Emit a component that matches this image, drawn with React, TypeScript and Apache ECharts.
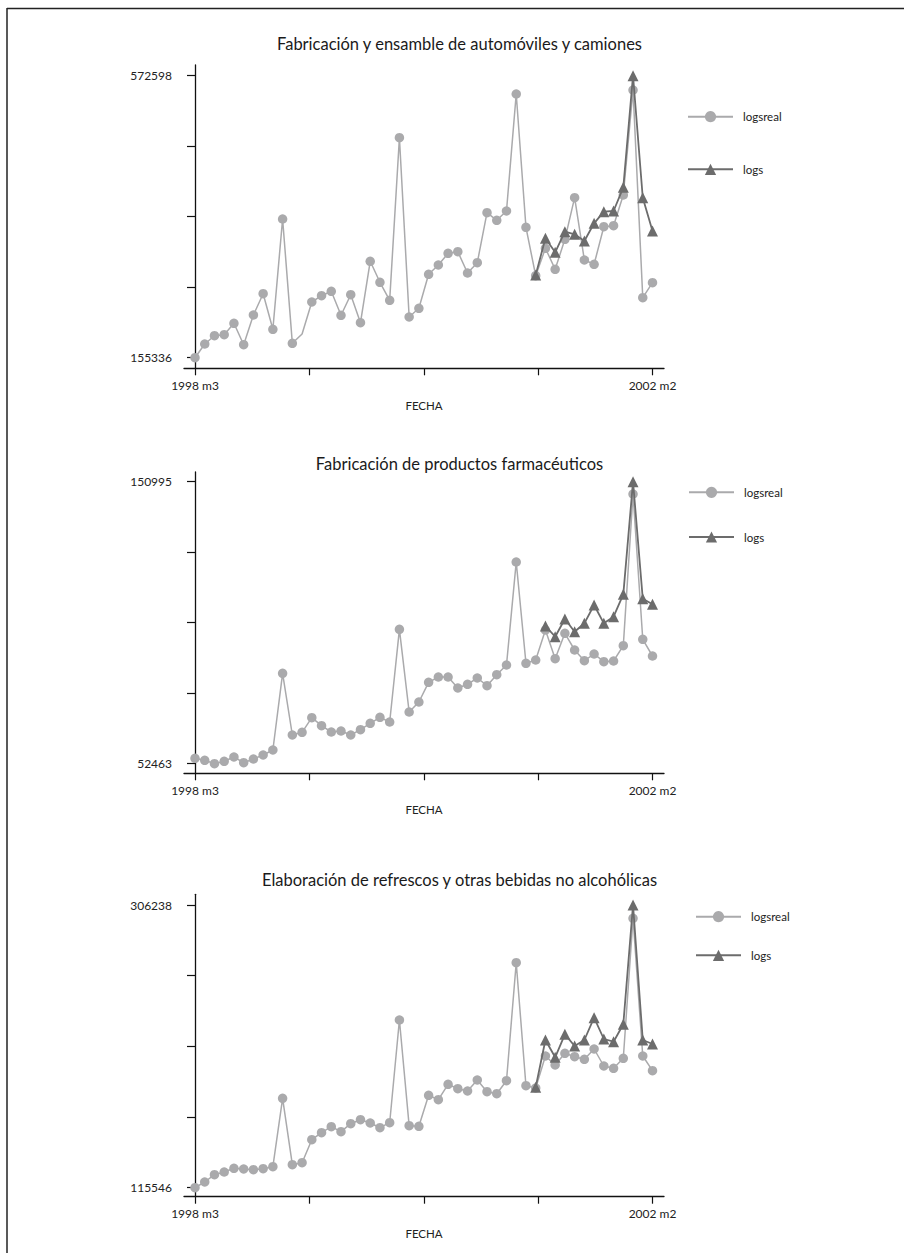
import React, { useEffect, useRef } from 'react';
import * as echarts from 'echarts';

// ---- data ----
const xTickLabels = ['1998 m3', '2002 m2'];
const xTickPositions = [0, 11.75, 23.5, 35.25, 47];
const xLabelPositions = [0, 47];

const titles = [
  'Fabricación y ensamble de automóviles y camiones',
  'Fabricación de productos farmacéuticos',
  'Elaboración de refrescos y otras bebidas no alcohólicas',
];

const yLabels1 = [155336, 572598];
const yLabels2 = [52463, 150995];
const yLabels3 = [115546, 306238];

const real1 = [
  155336, 175607, 187888, 189368, 206236, 174571, 218517, 250034, 197358, 360563,
  176643, 190404, 237753, 247074, 253585, 218073, 248554, 207124, 297974, 266902,
  240268, 480859, 215558, 228431, 278739, 292500, 309811, 312179, 280662, 295903,
  369885, 358640, 372401, 545520, 348282, 276667, 317210, 286137, 330527, 392080,
  299898, 293535, 349170, 350650, 396075, 551438, 244115, 266310,
];
const logs1 = [
  null, null, null, null, null, null, null, null, null, null,
  null, null, null, null, null, null, null, null, null, null,
  null, null, null, null, null, null, null, null, null, null,
  null, null, null, null, null, 277703, 332006, 311291, 341772, 337925,
  328011, 354201, 371365, 372401, 407468, 572598, 392080, 342808,
];
const real1NoMarker = [11];

const real2 = [
  54350, 53651, 52463, 53302, 54804, 52812, 54105, 55503, 57250, 84049,
  62491, 63434, 68535, 65740, 63539, 63888, 62491, 64343, 66579, 68675,
  67033, 99422, 70527, 74021, 80904, 82756, 82756, 78913, 80205, 82407,
  79716, 83560, 86949, 122937, 87543, 88696, 99178, 89150, 98025, 92190,
  88451, 90792, 88102, 88346, 93692, 146696, 95928, 90093,
];
const logs2 = [
  null, null, null, null, null, null, null, null, null, null,
  null, null, null, null, null, null, null, null, null, null,
  null, null, null, null, null, null, null, null, null, null,
  null, null, null, null, null, null, 100575, 96837, 103021, 98584,
  101519, 107913, 101519, 103825, 111651, 150995, 110114, 108157,
];

const real3 = [
  115546, 119391, 124315, 126136, 128632, 128160, 127688, 128362, 129711, 175850,
  131060, 132410, 147924, 152646, 156693, 153320, 158717, 161415, 159189, 156018,
  159391, 228666, 157367, 156963, 177874, 174906, 185293, 182325, 180774, 188194,
  180302, 178953, 187722, 267318, 184349, 182798, 204383, 198312, 206204, 203911,
  202157, 209105, 197638, 196086, 202831, 297267, 204383, 194467,
];
const logs3 = [
  null, null, null, null, null, null, null, null, null, null,
  null, null, null, null, null, null, null, null, null, null,
  null, null, null, null, null, null, null, null, null, null,
  null, null, null, null, null, 183270, 215176, 203506, 219020, 211128,
  215176, 230218, 215850, 214029, 225766, 306238, 215176, 212477,
];

// ---- layout ----
const FONT = 'Lato, "Noto Sans", sans-serif';
const REAL_COLOR = '#aaaaac';
const LOGS_COLOR = '#6c6c6c';

const panels = [
  { title: titles[0], titleY: 44, yLabels: yLabels1, real: real1, logs: logs1, noMarker: real1NoMarker,
    gridTop: 65, gridBottom: 368.3, tickHi: 75.7, tickLo: 357.7, nameGap: 31,
    legendLeft: 682, legendTop: 105.7, legendGap: 40.6 },
  { title: titles[1], titleY: 463.5, yLabels: yLabels2, real: real2, logs: logs2, noMarker: [],
    gridTop: 472, gridBottom: 773.3, tickHi: 481.7, tickLo: 763.7, nameGap: 30,
    legendLeft: 683, legendTop: 481.3, legendGap: 32.7 },
  { title: titles[2], titleY: 880, yLabels: yLabels3, real: real3, logs: logs3, noMarker: [],
    gridTop: 894.3, gridBottom: 1196.7, tickHi: 905, tickLo: 1187.7, nameGap: 31,
    legendLeft: 690, legendTop: 905.7, legendGap: 26.6 },
];

const GRID_LEFT = 184;
const GRID_RIGHT = 664;
const X0_PX = 195;
const X47_PX = 652.5;

function buildOption() {
  const perMonth = (X47_PX - X0_PX) / 47;
  const xMin = -(X0_PX - GRID_LEFT) / perMonth;
  const xMax = 47 + (GRID_RIGHT - X47_PX) / perMonth;

  const grids: any[] = [];
  const xAxes: any[] = [];
  const yAxes: any[] = [];
  const series: any[] = [];
  const legends: any[] = [];
  const graphics: any[] = [];

  panels.forEach((p, k) => {
    const [lo, hi] = p.yLabels;
    const perPx = (hi - lo) / (p.tickLo - p.tickHi);
    const yMin = lo - (p.gridBottom - p.tickLo) * perPx;
    const yMax = hi + (p.tickHi - p.gridTop) * perPx;
    const yTicks = [0, 1, 2, 3, 4].map((i) => lo + ((hi - lo) * i) / 4);

    grids.push({ left: GRID_LEFT, top: p.gridTop, width: GRID_RIGHT - GRID_LEFT, height: p.gridBottom - p.gridTop });

    xAxes.push({
      type: 'value', gridIndex: k, min: xMin, max: xMax,
      name: 'FECHA', nameLocation: 'middle', nameGap: p.nameGap,
      nameTextStyle: { fontFamily: FONT, fontSize: 11.5, color: '#222' },
      axisLine: { show: true, lineStyle: { color: '#111', width: 1.3 } },
      axisTick: { show: true, length: 7, lineStyle: { color: '#111', width: 1.2 }, customValues: xTickPositions },
      axisLabel: {
        show: true, margin: 11, fontFamily: FONT, fontSize: 12, color: '#222',
        customValues: xLabelPositions,
        formatter: (v: number) => (Math.abs(v) < 0.01 ? xTickLabels[0] : xTickLabels[1]),
      },
      splitLine: { show: false },
    });

    yAxes.push({
      type: 'value', gridIndex: k, min: yMin, max: yMax,
      axisLine: { show: true, lineStyle: { color: '#111', width: 1.3 } },
      axisTick: { show: true, length: 8, lineStyle: { color: '#111', width: 1.2 }, customValues: yTicks },
      axisLabel: {
        show: true, margin: 12, fontFamily: FONT, fontSize: 12, color: '#222',
        customValues: [lo, hi],
        formatter: (v: number) => String(Math.round(v)),
      },
      splitLine: { show: false },
    });

    const realData = p.real.map((v, i) =>
      p.noMarker.includes(i) ? { value: [i, v], symbol: 'none' } : { value: [i, v] }
    );
    const logsData = p.logs
      .map((v, i) => (v == null ? null : [i, v]))
      .filter((d) => d !== null);

    series.push({
      name: 'logsreal', type: 'line', xAxisIndex: k, yAxisIndex: k,
      data: realData, symbol: 'circle', symbolSize: 9.5, showSymbol: true,
      lineStyle: { color: REAL_COLOR, width: 1.5 },
      itemStyle: { color: REAL_COLOR },
      z: 2,
    });
    series.push({
      name: 'logs', type: 'line', xAxisIndex: k, yAxisIndex: k,
      data: logsData, symbol: 'triangle', symbolSize: 11, showSymbol: true,
      lineStyle: { color: LOGS_COLOR, width: 1.8 },
      itemStyle: { color: LOGS_COLOR },
      z: 3,
    });

    legends.push({
      orient: 'vertical', left: p.legendLeft, top: p.legendTop,
      itemWidth: 45, itemHeight: 14, itemGap: p.legendGap,
      data: ['logsreal', 'logs'],
      textStyle: { fontFamily: FONT, fontSize: 11.5, color: '#222', padding: [0, 0, 0, 5] },
      selectedMode: false,
    });

    graphics.push({
      type: 'text', x: 459.5, y: p.titleY,
      style: { text: p.title, textAlign: 'center', textVerticalAlign: 'middle', fontFamily: FONT, fontSize: 16.5, fill: '#1a1a1a' },
    });
  });

  // figure frame (top and left edges)
  graphics.push({ type: 'line', shape: { x1: 7, y1: 8.5, x2: 904, y2: 8.5 }, style: { stroke: '#222', lineWidth: 1.5 } });
  graphics.push({ type: 'line', shape: { x1: 7, y1: 8, x2: 7, y2: 1253 }, style: { stroke: '#222', lineWidth: 1.5 } });

  return {
    animation: false,
    backgroundColor: '#ffffff',
    grid: grids,
    xAxis: xAxes,
    yAxis: yAxes,
    legend: legends,
    series,
    graphic: graphics,
  };
}

export default function App() {
  const ref = useRef<HTMLDivElement>(null);
  useEffect(() => {
    if (!ref.current) return;
    const chart = echarts.init(ref.current, undefined, { renderer: 'svg' });
    chart.setOption(buildOption() as any);
    return () => chart.dispose();
  }, []);
  return (
    <div
      ref={ref}
      style={{ position: 'absolute', left: 0, top: 0, width: 904, height: 1253, background: '#fff' }}
    />
  );
}
